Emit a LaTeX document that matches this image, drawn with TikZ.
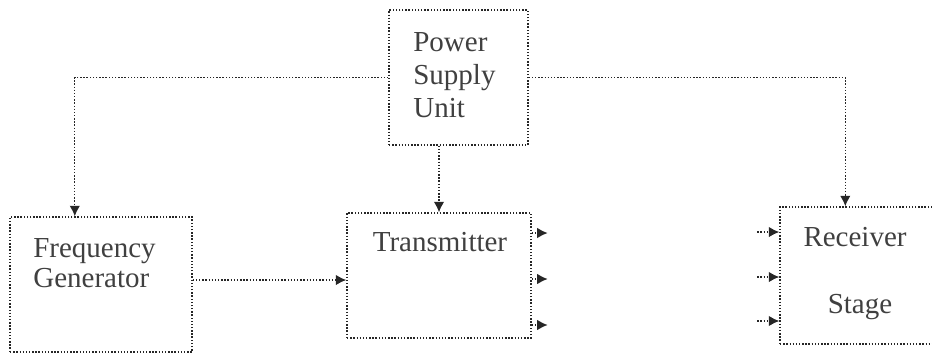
\documentclass[tikz,border=0pt]{standalone}
\usepackage{fontspec}
\setmainfont{Liberation Serif}
\usetikzlibrary{arrows.meta,calc}
\begin{document}
\begin{tikzpicture}[x=0.02cm, y=-0.02cm, >={Latex[length=6pt,width=6pt]},
          font=\fontsize{16.5}{19}\selectfont,
          blk/.style={draw=black!85, densely dotted, line width=0.8pt, inner sep=0pt},
          lbl/.style={text=black!75, inner sep=0pt},
          wire/.style={draw=black!85, densely dotted, line width=0.8pt},
          arr/.style={wire, ->}]
        % frame of the picture, in pixels of the reference
        \useasboundingbox (0,0) rectangle (932,353);
        \clip (0,0) rectangle (932,353);
        % blocks
        \node[blk, minimum width=2.78cm, minimum height=2.70cm] (psu) at (458.5,77.5) {};
        \node[blk, minimum width=3.64cm, minimum height=2.70cm] (freq) at (101,284.5) {};
        \node[blk, minimum width=3.68cm, minimum height=2.50cm] (trans) at (439,275.5) {};
        \node[blk, minimum width=3.60cm, minimum height=2.74cm] (recv) at (870,275.5) {};
        % texts
        \node[lbl, anchor=west, align=left, font=\fontsize{16.5}{18.7}\selectfont] (psutxt) at (413,75) {Power\\Supply\\Unit};
        \node[lbl, anchor=west, align=left, font=\fontsize{16.5}{17}\selectfont] (freqtxt) at (33,263) {Frequency\\Generator};
        \node[lbl] (transtxt) at (440,242) {Transmitter};
        \node[lbl] (recvtxt) at (855,237) {Receiver};
        \node[lbl] (stagetxt) at (860,307) {Stage};
        % supply lines
        \draw[arr] (psu.west) -| ($(freq.north west)!0.357!(freq.north east)$);
        \draw[arr] (psu.east) -| ([xshift=1.32cm]recv.north west);
        \draw[arr] (psu.south -| trans.north) -- (trans.north);
        % signal path
        \coordinate (fg) at ([yshift=0.09cm]freq.east);
        \draw[arr] (fg) -- (fg -| trans.west);
        \foreach \i/\dy in {1/0.85, 2/-0.07, 3/-0.99} {
          \coordinate (out\i) at ([xshift=0.32cm, yshift=\dy cm]trans.east);
          \draw[arr] (out\i -| trans.east) -- (out\i);
        }
        \foreach \i/\dy in {1/0.87, 2/-0.03, 3/-0.91} {
          \coordinate (in\i) at ([xshift=-0.44cm, yshift=\dy cm]recv.west);
          \draw[arr] (in\i) -- (in\i -| recv.west);
        }
      \end{tikzpicture}
\end{document}
